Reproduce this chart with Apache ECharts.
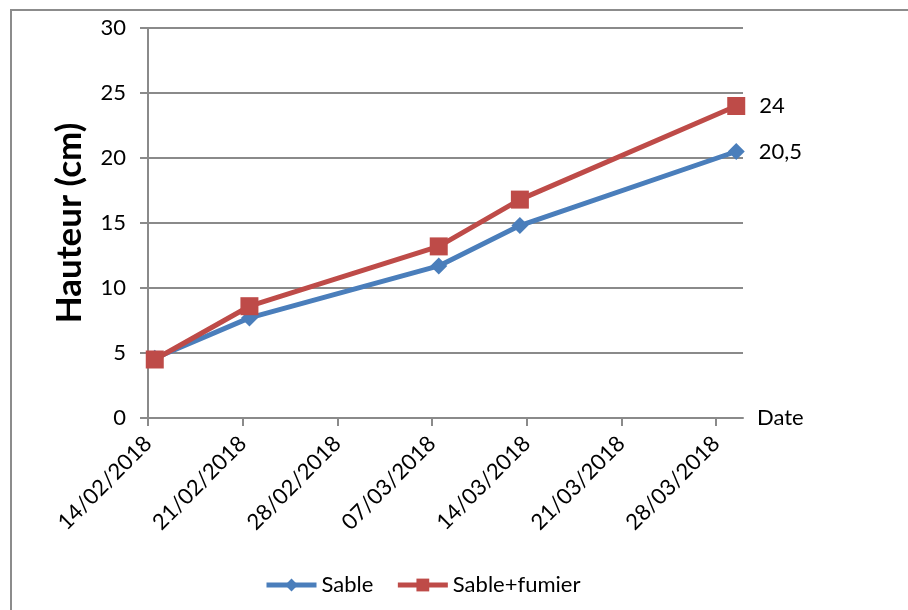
<!DOCTYPE html>
<html>
<head>
<meta charset="utf-8">
<title>Hauteur (cm)</title>
<script src="https://cdn.jsdelivr.net/npm/echarts@6/dist/echarts.min.js"></script>
<style>
  html, body { margin: 0; padding: 0; background: #fff; }
  #chart { width: 908px; height: 610px; }
</style>
</head>
<body>
<div id="chart"></div>
<script>
// Measurement dates (dd/mm/yyyy)
var dates = ['14/02/2018', '21/02/2018', '07/03/2018', '13/03/2018', '29/03/2018'];
// Plant height (cm) per substrate
var sable = [4.6, 7.7, 11.7, 14.8, 20.5];
var sableFumier = [4.5, 8.6, 13.2, 16.8, 24];
// Weekly tick labels on the date axis
var tickLabels = ['14/02/2018', '21/02/2018', '28/02/2018', '07/03/2018', '14/03/2018', '21/03/2018', '28/03/2018'];
var seriesNames = ['Sable', 'Sable+fumier'];

var DAY = 86400000;
function parseDay(s) {
  var p = s.split('/');
  return Date.UTC(+p[2], +p[1] - 1, +p[0]) / DAY;
}
var origin = parseDay(tickLabels[0]);
// Ticks sit at the start of a day; points sit in the middle of their day.
var tickValues = tickLabels.map(function (s) { return parseDay(s) - origin; });
var xs = dates.map(function (s) { return parseDay(s) - origin + 0.5; });
function dayLabel(v) {
  var d = new Date((origin + v) * DAY);
  var dd = ('0' + d.getUTCDate()).slice(-2);
  var mm = ('0' + (d.getUTCMonth() + 1)).slice(-2);
  return dd + '/' + mm + '/' + d.getUTCFullYear();
}

function build(values) {
  var last = values.length - 1;
  return values.map(function (v, i) {
    return { value: [xs[i], v], label: { show: i === last } };
  });
}

var FONT = 'Lato';
var GRID = '#8a8a8a';
var BLUE = '#4A7EBB';
var RED = '#BE4B48';

function valueLabel() {
  return {
    position: 'right',
    distance: 14,
    fontFamily: FONT,
    fontSize: 22,
    color: '#000',
    formatter: function (p) { return String(p.value[1]).replace('.', ','); }
  };
}

var chart = echarts.init(document.getElementById('chart'), null, { renderer: 'canvas' });
chart.setOption({
  animation: false,
  backgroundColor: '#fff',
  textStyle: { fontFamily: FONT },
  graphic: [{
    type: 'rect',
    shape: { x: 11, y: 10, width: 1000, height: 1000 },
    style: { fill: 'none', stroke: '#8c8c8c', lineWidth: 2 },
    silent: true,
    z: -1
  }],
  grid: { left: 148, right: 165, top: 28, bottom: 192, containLabel: false },
  legend: {
    bottom: 9,
    left: 259,
    itemWidth: 50,
    itemHeight: 16,
    itemGap: 22,
    lineStyle: { width: 5 },
    textStyle: { fontFamily: FONT, fontSize: 22, color: '#000' },
    data: seriesNames
  },
  xAxis: {
    type: 'value',
    min: 0,
    max: 44,
    interval: 7,
    name: 'Date',
    nameLocation: 'end',
    nameGap: 14,
    nameTextStyle: { fontFamily: FONT, fontSize: 22, color: '#000' },
    axisLine: { lineStyle: { color: GRID, width: 2 } },
    axisTick: { show: true, length: 8, lineStyle: { color: GRID, width: 2 }, customValues: tickValues },
    axisLabel: {
      customValues: tickValues,
      rotate: 45,
      margin: 22,
      fontFamily: FONT,
      fontSize: 22,
      color: '#000',
      formatter: function (v) { return dayLabel(v); }
    },
    splitLine: { show: false }
  },
  yAxis: {
    type: 'value',
    min: 0,
    max: 30,
    interval: 5,
    name: 'Hauteur (cm)',
    nameLocation: 'middle',
    nameRotate: 90,
    nameGap: 61,
    nameTextStyle: { fontFamily: FONT, fontSize: 35, fontWeight: 'bold', color: '#000' },
    axisLine: { show: true, lineStyle: { color: GRID, width: 2 } },
    axisTick: { show: true, length: 8, lineStyle: { color: GRID, width: 2 } },
    axisLabel: { margin: 22, fontFamily: FONT, fontSize: 22, color: '#000' },
    splitLine: { lineStyle: { color: GRID, width: 2 } }
  },
  series: [{
    name: seriesNames[0],
    type: 'line',
    data: build(sable),
    symbol: 'diamond',
    symbolSize: 17,
    lineStyle: { color: BLUE, width: 5 },
    itemStyle: { color: BLUE },
    label: valueLabel()
  }, {
    name: seriesNames[1],
    type: 'line',
    data: build(sableFumier),
    symbol: 'rect',
    symbolSize: 18,
    lineStyle: { color: RED, width: 5 },
    itemStyle: { color: RED },
    label: valueLabel()
  }]
});
</script>
</body>
</html>
